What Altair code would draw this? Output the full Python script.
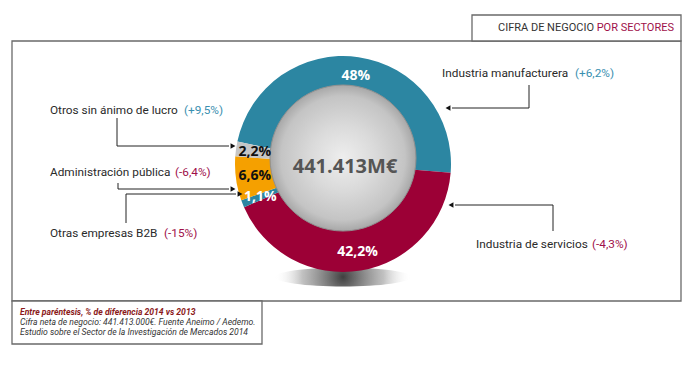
import math
import altair as alt
import pandas as pd

W, H = 681, 350
OFF = 8  # page margin: layout values below are in page pixels

# ---------------- data ----------------
sectors = ["Industria manufacturera", "Industria de servicios", "Otras empresas B2B",
           "Administración pública", "Otros sin ánimo de lucro"]
shares = [48.0, 42.2, 1.1, 6.6, 2.2]
share_labels = ["48%", "42,2%", "1,1%", "6,6%", "2,2%"]
changes = ["(+6,2%)", "(-4,3%)", "(-15%)", "(-6,4%)", "(+9,5%)"]
total_label = "441.413M€"
title_a = "CIFRA DE NEGOCIO"
title_b = "POR SECTORES"
notes = ["Entre paréntesis, % de diferencia 2014 vs 2013",
         "Cifra neta de negocio: 441.413.000€. Fuente Aneimo / Aedemo.",
         "Estudio sobre el Sector de la Investigación de Mercados 2014"]

# ---------------- styles / layout ----------------
slice_colors = ["#2C86A2", "#9C0036", "#2C86A2", "#F5A000", "#C6C6C6"]
label_colors = ["white", "white", "white", "#111111", "#111111"]
change_colors = ["#3A8FB0", "#A0104A", "#A0104A", "#A0104A", "#3A8FB0"]
LABEL_FONT = "Roboto"

ring_cx, ring_cy, ring_r = 343, 164, 108
disk_cx, disk_cy, disk_r = 343, 158, 73
start_deg = -78

name_x = [442, 476, 50, 50, 50]
name_y = [73, 244, 233, 172, 110]
change_x = [575, 592, 164, 175, 184]

# connector polylines (page pixels)
conn_id = [0, 0, 0, 1, 1, 1, 2, 2, 2, 3, 3, 3, 4, 4, 4]
conn_step = [0, 1, 2] * 5
conn_x = [529, 529, 452, 553, 553, 455, 126, 126, 236, 118, 118, 229, 117, 117, 229]
conn_y = [85, 108, 108, 231, 205, 205, 223, 194, 194, 183, 189, 189, 118, 146, 146]
tip_x = [448, 451, 240, 233, 233]
tip_y = [108, 205, 194, 189, 146]
tip_shape = ["triangle-left", "triangle-left", "triangle-right", "triangle-right", "triangle-right"]

frames_x = [12, 472, 12]
frames_x2 = [681, 681, 262]
frames_y = [41, 15, 301]
frames_y2 = [301, 41, 344]

# ---------------- scales ----------------
xs = alt.Scale(domain=[OFF, OFF + W], nice=False, zero=False)
ys = alt.Scale(domain=[OFF, OFF + H], nice=False, zero=False, reverse=True)
X = lambda f: alt.X(f, type="quantitative", scale=xs, axis=None)
Y = lambda f: alt.Y(f, type="quantitative", scale=ys, axis=None)

pie_df = pd.DataFrame({"sector": sectors, "share": shares, "label": share_labels,
                       "color": slice_colors, "lcolor": label_colors,
                       "order": list(range(len(sectors)))})
a0 = math.radians(start_deg)
theta = alt.Theta("share:Q", stack=True, scale=alt.Scale(range=[a0, a0 + 2 * math.pi]))

frames = alt.Chart(pd.DataFrame({"x": frames_x, "x2": frames_x2, "y": frames_y, "y2": frames_y2})).mark_rect(
    fill="white", stroke="#6a6a6a", strokeWidth=1.3
).encode(x=X("x"), x2="x2", y=Y("y"), y2="y2")

shadow_path = "M-1,0A1,0.14,0,1,0,1,0A1,0.14,0,1,0,-1,0Z"
shadow = alt.Chart(pd.DataFrame({"x": [343], "y": [277]})).mark_point(
    shape=shadow_path, size=136 * 136, filled=True, opacity=1,
    fill=alt.Gradient(gradient="radial", x1=0.5, y1=0.5, x2=0.5, y2=0.5, r1=0, r2=0.5,
                      stops=[alt.GradientStop(offset=0, color="rgba(30,30,30,0.85)"),
                             alt.GradientStop(offset=0.6, color="rgba(100,100,100,0.4)"),
                             alt.GradientStop(offset=1, color="rgba(255,255,255,0)")]),
    strokeWidth=0
).encode(x=X("x"), y=Y("y"))

ring = alt.Chart(pie_df).mark_arc(outerRadius=ring_r, innerRadius=60).encode(
    theta=theta, order=alt.Order("order:Q"),
    color=alt.Color("color:N", scale=None),
    x=alt.value(ring_cx - OFF), y=alt.value(ring_cy - OFF)
)

disk = alt.Chart(pd.DataFrame({"a": [0]})).mark_arc(
    theta=0, theta2=2 * math.pi, outerRadius=disk_r, innerRadius=0,
    fill=alt.Gradient(gradient="radial", x1=0.5, y1=0.5, x2=0.5, y2=0.5, r1=0, r2=0.5,
                      stops=[alt.GradientStop(offset=0, color="#eeeeee"),
                             alt.GradientStop(offset=0.45, color="#dadada"),
                             alt.GradientStop(offset=0.85, color="#c4c4c4"),
                             alt.GradientStop(offset=1, color="#a8a8a8")]),
    stroke="#909090", strokeWidth=1
).encode(x=alt.value(disk_cx - OFF), y=alt.value(disk_cy - OFF))

slice_text = alt.Chart(pie_df).mark_text(
    radius=89, font="Open Sans", fontWeight="bold", fontSize=14, baseline="middle", align="center"
).encode(
    theta=theta, order=alt.Order("order:Q"), text="label:N",
    color=alt.Color("lcolor:N", scale=None),
    x=alt.value(ring_cx - OFF), y=alt.value(ring_cy - OFF)
)

center_text = alt.Chart(pd.DataFrame({"x": [345], "y": [167], "t": [total_label]})).mark_text(
    font="Open Sans", fontWeight="bold", fontSize=20, color="#555555", baseline="middle", align="center"
).encode(x=X("x"), y=Y("y"), text="t:N")

conn = alt.Chart(pd.DataFrame({"id": conn_id, "step": conn_step, "x": conn_x, "y": conn_y})).mark_line(
    color="#222222", strokeWidth=1
).encode(x=X("x"), y=Y("y"), detail="id:N", order="step:Q")

tips = alt.Chart(pd.DataFrame({"x": tip_x, "y": tip_y, "s": tip_shape})).mark_point(
    filled=True, size=32, color="#111111", opacity=1
).encode(x=X("x"), y=Y("y"), shape=alt.Shape("s:N", scale=None))

names = alt.Chart(pd.DataFrame({"x": name_x, "y": name_y, "t": sectors})).mark_text(
    font=LABEL_FONT, fontSize=11.8, color="#2a2a2a", align="left", baseline="middle"
).encode(x=X("x"), y=Y("y"), text="t:N")

chg = alt.Chart(pd.DataFrame({"x": change_x, "y": name_y, "t": changes, "c": change_colors})).mark_text(
    font=LABEL_FONT, fontSize=11.8, align="left", baseline="middle"
).encode(x=X("x"), y=Y("y"), text="t:N", color=alt.Color("c:N", scale=None))

title1 = alt.Chart(pd.DataFrame({"x": [594], "y": [28], "t": [title_a]})).mark_text(
    font=LABEL_FONT, fontSize=11, color="#333333", align="right", baseline="middle"
).encode(x=X("x"), y=Y("y"), text="t:N")
title2 = alt.Chart(pd.DataFrame({"x": [674], "y": [28], "t": [title_b]})).mark_text(
    font=LABEL_FONT, fontSize=11, color="#A0104A", align="right", baseline="middle"
).encode(x=X("x"), y=Y("y"), text="t:N")

note1 = alt.Chart(pd.DataFrame({"x": [20], "y": [312], "t": [notes[0]]})).mark_text(
    font=LABEL_FONT, fontSize=8.6, fontStyle="italic", fontWeight="bold", color="#8B1A1A",
    align="left", baseline="middle"
).encode(x=X("x"), y=Y("y"), text="t:N")
note2 = alt.Chart(pd.DataFrame({"x": [20, 20], "y": [322, 332], "t": notes[1:]})).mark_text(
    font=LABEL_FONT, fontSize=8.6, fontStyle="italic", color="#333333", align="left", baseline="middle"
).encode(x=X("x"), y=Y("y"), text="t:N")

chart = alt.layer(
    frames, shadow, ring, disk, slice_text, center_text, conn, tips, names, chg,
    title1, title2, note1, note2
).properties(width=W, height=H, padding=0).configure_view(stroke=None)

chart.save("out.html", embed_options={"renderer": "svg", "actions": False})
